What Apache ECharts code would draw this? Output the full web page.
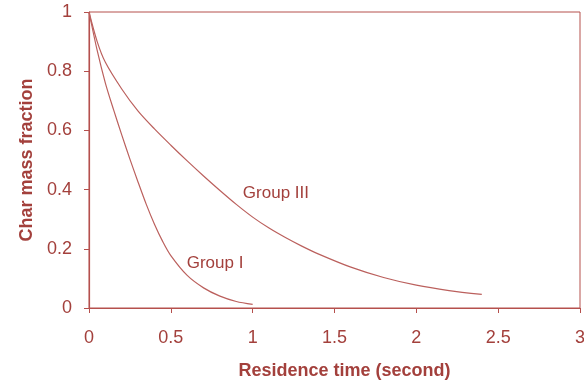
<!DOCTYPE html>
<html><head><meta charset="utf-8">
<script src="https://cdn.jsdelivr.net/npm/echarts@6/dist/echarts.min.js"></script>
<style>html,body{margin:0;padding:0;background:#fff}#c{width:584px;height:381px}</style>
</head><body><div id="c"></div>
<script>
const groupIX = [0, 0.05, 0.1, 0.15, 0.2, 0.25, 0.3, 0.35, 0.4, 0.45, 0.5, 0.6, 0.7, 0.8, 0.9, 1.0];
const groupIY = [1, 0.87, 0.76, 0.67, 0.585, 0.503, 0.425, 0.35, 0.283, 0.225, 0.177, 0.11, 0.068, 0.04, 0.022, 0.012];
const groupIIIX = [0, 0.05, 0.1, 0.2, 0.3, 0.4, 0.5, 0.6, 0.7, 0.8, 0.9, 1.0, 1.1, 1.2, 1.3, 1.4, 1.6, 1.8, 2.0, 2.2, 2.4];
const groupIIIY = [1, 0.9, 0.83, 0.74, 0.665, 0.605, 0.55, 0.497, 0.446, 0.397, 0.35, 0.307, 0.27, 0.238, 0.209, 0.183, 0.138, 0.103, 0.077, 0.059, 0.046];
const labelI = {name: 'Group I', x: 0.77, y: 0.152};
const labelIII = {name: 'Group III', x: 1.142, y: 0.386};

const textColor = '#a3403c';
const lineColor = '#bb605d';
const axisColor = '#b5504d';
const font = '"Liberation Sans", Arial, sans-serif';
const pairs = (xs, ys) => xs.map((x, i) => [x, ys[i]]);

const chart = echarts.init(document.getElementById('c'));
function lineSeries(name, xs, ys, lab) {
  return {
    type: 'line', name, data: pairs(xs, ys), smooth: 0.3, symbol: 'none',
    lineStyle: {color: lineColor, width: 1.2},
    markPoint: {
      symbol: 'circle', symbolSize: 0,
      data: [{coord: [lab.x, lab.y], value: lab.name}],
      label: {show: true, position: 'inside', formatter: lab.name, color: textColor, fontSize: 17, fontFamily: font}
    }
  };
}
chart.setOption({
  animation: false,
  grid: {left: 89, right: 4, top: 12, bottom: 73, outerBoundsMode: 'none', containLabel: false,
         show: true, borderColor: axisColor, borderWidth: 1},
  xAxis: {
    type: 'value', min: 0, max: 3, interval: 0.5,
    name: 'Residence time (second)', nameLocation: 'middle', nameGap: 54,
    nameTextStyle: {color: textColor, fontSize: 18, fontWeight: 'bold', fontFamily: font, padding: [0, 0, 0, 20]},
    axisLine: {lineStyle: {color: axisColor, width: 1.2}},
    axisTick: {show: true, length: 5, lineStyle: {color: axisColor}},
    axisLabel: {color: textColor, fontSize: 18, fontFamily: font, margin: 21},
    splitLine: {show: false}
  },
  yAxis: {
    type: 'value', min: 0, max: 1, interval: 0.2,
    name: 'Char mass fraction', nameLocation: 'middle', nameGap: 53,
    nameTextStyle: {color: textColor, fontSize: 18, fontWeight: 'bold', fontFamily: font},
    axisLine: {show: true, lineStyle: {color: axisColor, width: 1.2}},
    axisTick: {show: true, length: 5, lineStyle: {color: axisColor}},
    axisLabel: {color: textColor, fontSize: 18, fontFamily: font, margin: 17},
    splitLine: {show: false}
  },
  series: [
    lineSeries('Group I', groupIX, groupIY, labelI),
    lineSeries('Group III', groupIIIX, groupIIIY, labelIII)
  ]
});
</script></body></html>
